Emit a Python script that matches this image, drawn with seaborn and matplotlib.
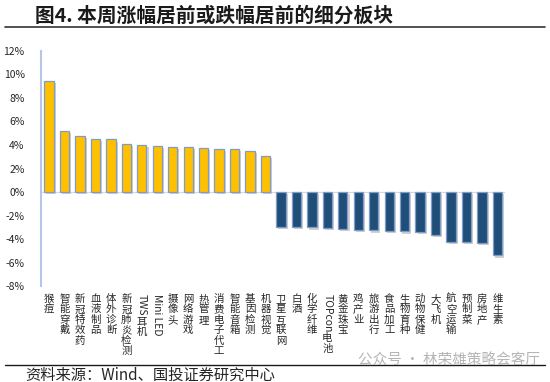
import re
import numpy as np
import pandas as pd
import matplotlib
matplotlib.use("Agg")
import matplotlib.pyplot as plt
import matplotlib.patheffects as pe
from matplotlib.transforms import blended_transform_factory, offset_copy
import seaborn as sns

# ---------------------------------------------------------------------------
# Data (weekly return, %)
# ---------------------------------------------------------------------------
sectors = [
    "猴痘", "智能穿戴", "新冠特效药", "血液制品", "体外诊断", "新冠肺炎检测",
    "TWS耳机", "Mini LED", "摄像头", "网络游戏", "热管理", "消费电子代工",
    "智能音箱", "基因检测", "机器视觉",
    "卫星互联网", "白酒", "化学纤维", "TOPcon电池", "黄金珠宝", "鸡产业",
    "旅游出行", "食品加工", "生物育种", "动物保健", "大飞机", "航空运输",
    "预制菜", "房地产", "维生素",
]
returns = [
    9.45, 5.2, 4.8, 4.5, 4.47, 4.05, 4.0, 3.88, 3.82, 3.82, 3.72, 3.68,
    3.65, 3.5, 3.03,
    -3.0, -3.0, -3.02, -3.05, -3.15, -3.22, -3.27, -3.33, -3.36, -3.42,
    -3.62, -4.25, -4.28, -4.33, -5.4,
]
yticks = [-8, -6, -4, -2, 0, 2, 4, 6, 8, 10, 12]

title = "图4. 本周涨幅居前或跌幅居前的细分板块"
source = "资料来源：Wind、国投证券研究中心"
watermark = "公众号 · 林荣雄策略会客厅"

UP, DOWN = "#FFC000", "#1F4E79"

sns.set_style("white")
plt.rcParams["font.family"] = ["Noto Sans CJK SC", "DejaVu Sans"]
plt.rcParams["axes.unicode_minus"] = False

df = pd.DataFrame({"sector": sectors, "ret": returns})
df["group"] = np.where(df["ret"] >= 0, "up", "down")

fig = plt.figure(figsize=(5.5, 3.82), dpi=100)
ax = fig.add_axes([0.0751, 0.2513, 0.8434, 0.6152])

sns.barplot(
    data=df, x="sector", y="ret", hue="group", dodge=False, saturation=1,
    palette={"up": UP, "down": DOWN}, width=0.6, legend=False, ax=ax,
)
for bar in ax.patches:
    bar.set_edgecolor("#7F9CC8")
    bar.set_linewidth(0.9)
    bar.set_path_effects([
        pe.SimplePatchShadow(offset=(1.5, -1.5), shadow_rgbFace="#999999", alpha=0.45),
        pe.Normal(),
    ])

ax.set_xlim(-0.5, len(sectors) - 0.5)
ax.set_ylim(-8, 12)
ax.set_yticks(yticks)
ax.set_yticklabels([f"{t}%" for t in yticks], fontsize=7.5, color="#262626")
ax.tick_params(axis="y", length=0, pad=12)
ax.set_xticks([])
ax.set_xlabel("")
ax.set_ylabel("")
for side in ["top", "right", "bottom"]:
    ax.spines[side].set_visible(False)
ax.spines["left"].set_color("#B4C7E7")
ax.spines["left"].set_linewidth(1.5)
ax.axhline(0, color="#D9D9D9", lw=0.9, zorder=0.5)

# vertical (top-to-bottom) category labels: CJK upright, Latin runs rotated
fig.canvas.draw()
renderer = fig.canvas.get_renderer()
trans = blended_transform_factory(ax.transData, ax.transAxes)
step = 10.4  # px per CJK character
for i, name in enumerate(sectors):
    y_px = 8.0  # pixels below the axes bottom
    for run in re.findall(r"[A-Za-z0-9 ]+|[^A-Za-z0-9 ]+", name):
        if re.match(r"[A-Za-z0-9 ]", run):
            t = ax.text(i, 0, run, rotation=-90, ha="center", va="top",
                        fontsize=7.5, color="#262626",
                        transform=offset_copy(trans, fig, x=0, y=-y_px, units="dots"))
            h = t.get_window_extent(renderer).height
            y_px += h + 1
        else:
            for ch in run:
                ax.text(i, 0, ch, ha="center", va="top", fontsize=7.5, color="#262626",
                        transform=offset_copy(trans, fig, x=0, y=-y_px, units="dots"))
                y_px += step

# title, rules, source, watermark
fig.text(35 / 550, 1 - 16 / 382, title, fontsize=14.2, fontweight="bold",
         color="#1a1a1a", va="center", ha="left")
fig.add_artist(plt.Line2D([5 / 550, 545 / 550], [1 - 27 / 382] * 2,
                          color="#333333", lw=1.2))
fig.add_artist(plt.Line2D([5 / 550, 545 / 550], [1 - 365 / 382] * 2,
                          color="#1a1a1a", lw=1.0))
fig.text(25 / 550, 1 - 375 / 382, source, fontsize=11, color="#262626",
         va="center", ha="left")
fig.text(540 / 550, 1 - 360 / 382, watermark, fontsize=10.5, color="#B5B5B5",
         va="center", ha="right")

fig.savefig("out.png", dpi=100)
